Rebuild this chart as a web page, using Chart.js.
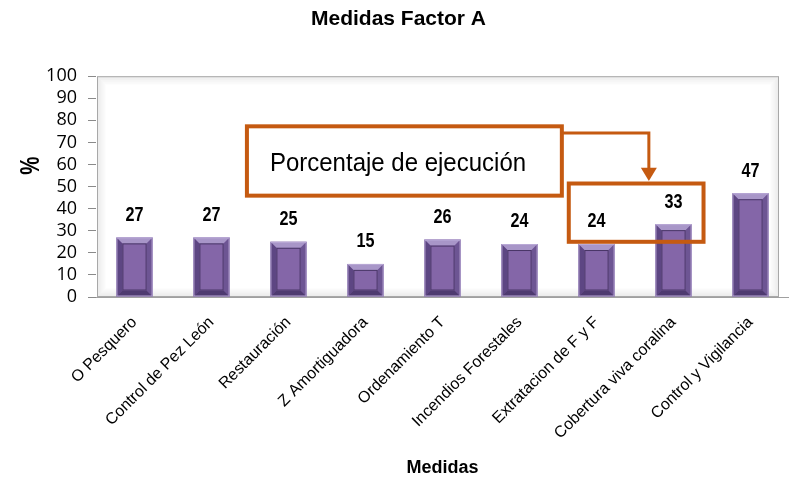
<!DOCTYPE html>
<html>
<head>
<meta charset="utf-8">
<script src="https://cdn.jsdelivr.net/npm/chart.js@4"></script>
<style>
  html, body { margin: 0; padding: 0; background: #fff; }
  #wrap { width: 789px; height: 479px; }
</style>
</head>
<body>
<div id="wrap"><canvas id="canvas" width="789" height="479"></canvas></div>
<script>
const medidas = ['O Pesquero', 'Control de Pez León', 'Restauración', 'Z Amortiguadora', 'Ordenamiento T',
    'Incendios Forestales', 'Extratacion de F y F', 'Cobertura viva coralina', 'Control y Vigilancia'];
const porcentaje = [27, 27, 25, 15, 26, 24, 24, 33, 47];
const yTicks = [0, 10, 20, 30, 40, 50, 60, 70, 80, 90, 100];

const orange = '#c55a11';
const sans = "'Liberation Sans', Arial, sans-serif";

// plot wall with soft grey edges
const wallPlugin = {
    id: 'wall',
    beforeDraw(chart) {
        const ctx = chart.ctx;
        const a = chart.chartArea;
        const l = a.left + 1, t = a.top, r = a.right - 10, b = a.bottom;
        ctx.save();
        ctx.fillStyle = '#fff';
        ctx.fillRect(l, t, r - l, b - t);
        for (let i = 0; i < 9; i++) {
            ctx.strokeStyle = 'rgba(0,0,0,' + (0.08 * (9 - i) / 9) + ')';
            ctx.lineWidth = 1;
            ctx.strokeRect(l + i + 0.5, t + i + 0.5, r - l - 2 * i - 1, b - t - 2 * i - 1);
        }
        ctx.strokeStyle = '#a8a8a8';
        ctx.strokeRect(l + 0.5, t + 0.5, r - l - 1, b - t - 1);
        ctx.restore();
    }
};

// bevelled bars + value labels
const bevelPlugin = {
    id: 'bevel',
    afterDatasetsDraw(chart) {
        const ctx = chart.ctx;
        const meta = chart.getDatasetMeta(0);
        ctx.save();
        meta.data.forEach(function (bar, i) {
            const x0 = bar.x - bar.width / 2, x1 = bar.x + bar.width / 2;
            const y0 = bar.y, y1 = bar.base;
            const d = 6;
            ctx.fillStyle = '#a896c8';
            ctx.beginPath();
            ctx.moveTo(x0, y0); ctx.lineTo(x1, y0); ctx.lineTo(x1 - d, y0 + d); ctx.lineTo(x0 + d, y0 + d);
            ctx.closePath(); ctx.fill();
            ctx.fillStyle = '#5d4683';
            ctx.beginPath();
            ctx.moveTo(x0, y0); ctx.lineTo(x0 + d, y0 + d); ctx.lineTo(x0 + d, y1 - d); ctx.lineTo(x0, y1);
            ctx.closePath(); ctx.fill();
            ctx.fillStyle = '#6d5593';
            ctx.beginPath();
            ctx.moveTo(x1, y0); ctx.lineTo(x1 - d, y0 + d); ctx.lineTo(x1 - d, y1 - d); ctx.lineTo(x1, y1);
            ctx.closePath(); ctx.fill();
            ctx.fillStyle = '#4e3a70';
            ctx.beginPath();
            ctx.moveTo(x0, y1); ctx.lineTo(x0 + d, y1 - d); ctx.lineTo(x1 - d, y1 - d); ctx.lineTo(x1, y1);
            ctx.closePath(); ctx.fill();
            ctx.strokeStyle = '#4a3768';
            ctx.lineWidth = 1;
            ctx.strokeRect(x0 + d + 0.5, y0 + d + 0.5, x1 - x0 - 2 * d - 1, y1 - y0 - 2 * d - 1);
            ctx.strokeStyle = '#b9a9d6';
            ctx.strokeRect(x0 + 0.5, y0 + 0.5, x1 - x0 - 1, y1 - y0 - 1);

            // value label, slightly condensed
            ctx.save();
            ctx.translate(bar.x, bar.y - 22);
            ctx.scale(0.9, 1.1);
            ctx.fillStyle = '#000';
            ctx.font = 'bold 18px ' + sans;
            ctx.textAlign = 'center';
            ctx.textBaseline = 'middle';
            ctx.fillText(String(porcentaje[i]), 0, 0);
            ctx.restore();
        });
        ctx.restore();
    }
};

// callout boxes, arrow and "%" axis title, placed through the scales
const calloutPlugin = {
    id: 'callout',
    afterDraw(chart) {
        const ctx = chart.ctx;
        const xs = chart.scales.x, ys = chart.scales.y;
        const px = v => xs.getPixelForValue(0) + v * (xs.getPixelForValue(1) - xs.getPixelForValue(0));
        const py = v => ys.getPixelForValue(v);
        ctx.save();
        ctx.strokeStyle = orange;
        ctx.fillStyle = orange;
        ctx.lineWidth = 4;
        ctx.strokeRect(px(1.46), py(77.3), px(5.55) - px(1.46), py(45.9) - py(77.3));
        ctx.strokeRect(px(5.64), py(51.4), px(7.39) - px(5.64), py(25) - py(51.4));
        const ax = px(6.68);
        ctx.lineWidth = 3;
        ctx.beginPath();
        ctx.moveTo(px(5.55), py(74.3));
        ctx.lineTo(ax, py(74.3));
        ctx.lineTo(ax, py(57));
        ctx.stroke();
        ctx.beginPath();
        ctx.moveTo(ax - 8, py(58.5));
        ctx.lineTo(ax + 8, py(58.5));
        ctx.lineTo(ax, py(52.5));
        ctx.closePath();
        ctx.fill();

        ctx.fillStyle = '#000';
        ctx.save();
        ctx.translate(px(1.46) + 23, py(60.5));
        ctx.scale(0.96, 1.05);
        ctx.font = '25px ' + sans;
        ctx.textAlign = 'left';
        ctx.textBaseline = 'middle';
        ctx.fillText('Porcentaje de ejecución', 0, 0);
        ctx.restore();

        ctx.save();
        ctx.translate(31, py(59.5));
        ctx.rotate(-Math.PI / 2);
        ctx.scale(0.85, 1.15);
        ctx.font = 'bold 24px ' + sans;
        ctx.textAlign = 'center';
        ctx.textBaseline = 'middle';
        ctx.fillText('%', 0, 0);
        ctx.restore();
        ctx.restore();
    }
};

const config = {
    type: 'bar',
    data: {
        labels: medidas,
        datasets: [{
            label: 'Porcentaje',
            data: porcentaje,
            backgroundColor: '#8466a8',
            borderWidth: 0,
            categoryPercentage: 1,
            barPercentage: 0.47,
        }],
    },
    options: {
        responsive: false,
        animation: false,
        layout: { padding: { left: 8, right: 0, top: 0, bottom: 0 } },
        plugins: {
            legend: { display: false },
            tooltip: { enabled: false },
            title: {
                display: true,
                text: 'Medidas Factor A',
                color: '#000',
                font: { family: sans, size: 21, weight: 'bold' },
                padding: { top: 7, bottom: 44 },
            },
        },
        scales: {
            x: {
                grid: { display: false, drawTicks: false },
                border: { display: true, color: '#a0a0a0' },
                ticks: {
                    color: '#000',
                    font: { family: sans, size: 16 },
                    maxRotation: 45,
                    minRotation: 45,
                    padding: 16,
                },
                title: {
                    display: true,
                    text: 'Medidas',
                    color: '#000',
                    font: { family: sans, size: 18, weight: 'bold' },
                    padding: { top: 0, bottom: 0 },
                },
                afterFit(scale) { scale.height = 182; },
            },
            y: {
                min: 0,
                max: 100,
                afterBuildTicks(scale) { scale.ticks = yTicks.map(v => ({ value: v })); },
                grid: { drawOnChartArea: false, drawTicks: true, tickLength: 8, color: '#8a8a8a' },
                border: { display: false },
                ticks: {
                    color: '#000',
                    font: { family: "'Open Sans', sans-serif", size: 18 },
                    padding: 11,
                    autoSkip: false,
                },
                afterFit(scale) { scale.width = 88; },
            },
        },
    },
    plugins: [wallPlugin, bevelPlugin, calloutPlugin],
};

const canvas = document.getElementById('canvas');
const chart = new Chart(canvas, config);
</script>
</body>
</html>
